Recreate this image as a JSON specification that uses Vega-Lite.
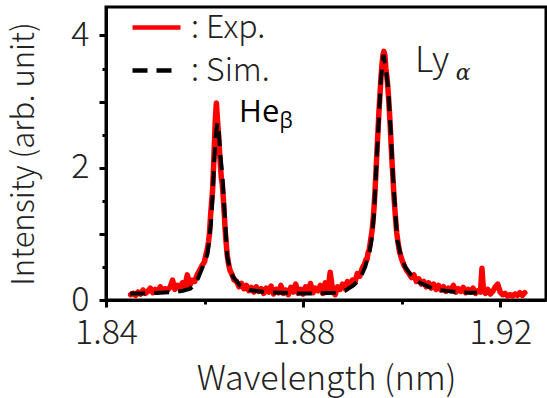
{
  "$schema": "https://vega.github.io/schema/vega-lite/v6.json",
  "width": 440,
  "height": 293,
  "autosize": {"type": "none"},
  "padding": {"left": 106, "top": 7, "right": 1, "bottom": 98},
  "background": "white",
  "config": {
    "view": {"stroke": "black", "strokeWidth": 3},
    "axis": {
      "domainColor": "black", "domainWidth": 3,
      "tickColor": "black", "tickWidth": 3,
      "grid": false,
      "labelFont": "Noto Sans CJK JP Light, Noto Sans CJK JP", "labelFontWeight": 300, "labelFontSize": 34, "labelColor": "#222",
      "titleFont": "Noto Sans CJK JP Light, Noto Sans CJK JP", "titleFontWeight": 300, "titleColor": "#222"
    },
    "legend": {
      "labelFont": "Noto Sans CJK JP Light, Noto Sans CJK JP", "labelFontWeight": 300, "labelColor": "#222"
    }
  },
  "datasets": {
    "spec": [
      {"s":"Exp.","w":1.8450,"v":0.08},{"s":"Exp.","w":1.8455,"v":0.10},{"s":"Exp.","w":1.8460,"v":0.07},{"s":"Exp.","w":1.8465,"v":0.12},
      {"s":"Exp.","w":1.8470,"v":0.09},{"s":"Exp.","w":1.8475,"v":0.15},{"s":"Exp.","w":1.8480,"v":0.10},{"s":"Exp.","w":1.8485,"v":0.13},
      {"s":"Exp.","w":1.8490,"v":0.18},{"s":"Exp.","w":1.8495,"v":0.11},{"s":"Exp.","w":1.8500,"v":0.16},{"s":"Exp.","w":1.8505,"v":0.12},
      {"s":"Exp.","w":1.8510,"v":0.20},{"s":"Exp.","w":1.8515,"v":0.14},{"s":"Exp.","w":1.8520,"v":0.17},{"s":"Exp.","w":1.8525,"v":0.15},
      {"s":"Exp.","w":1.8530,"v":0.19},{"s":"Exp.","w":1.8535,"v":0.30},{"s":"Exp.","w":1.8540,"v":0.16},{"s":"Exp.","w":1.8545,"v":0.22},
      {"s":"Exp.","w":1.8550,"v":0.18},{"s":"Exp.","w":1.8555,"v":0.26},{"s":"Exp.","w":1.8560,"v":0.20},{"s":"Exp.","w":1.8565,"v":0.38},
      {"s":"Exp.","w":1.8570,"v":0.22},{"s":"Exp.","w":1.8575,"v":0.30},{"s":"Exp.","w":1.8580,"v":0.28},{"s":"Exp.","w":1.8585,"v":0.38},
      {"s":"Exp.","w":1.8590,"v":0.45},{"s":"Exp.","w":1.8595,"v":0.52},{"s":"Exp.","w":1.8600,"v":0.58},{"s":"Exp.","w":1.8602,"v":0.66},
      {"s":"Exp.","w":1.8604,"v":0.72},{"s":"Exp.","w":1.8606,"v":0.78},{"s":"Exp.","w":1.8608,"v":0.88},{"s":"Exp.","w":1.8610,"v":1.00},
      {"s":"Exp.","w":1.8612,"v":1.25},{"s":"Exp.","w":1.8614,"v":1.45},{"s":"Exp.","w":1.8616,"v":1.62},{"s":"Exp.","w":1.8618,"v":1.95},
      {"s":"Exp.","w":1.8620,"v":2.35},{"s":"Exp.","w":1.8622,"v":2.75},{"s":"Exp.","w":1.8624,"v":2.98},{"s":"Exp.","w":1.8626,"v":2.75},
      {"s":"Exp.","w":1.8628,"v":2.55},{"s":"Exp.","w":1.8630,"v":2.30},{"s":"Exp.","w":1.8632,"v":2.05},{"s":"Exp.","w":1.8634,"v":1.85},
      {"s":"Exp.","w":1.8636,"v":1.75},{"s":"Exp.","w":1.8638,"v":1.55},{"s":"Exp.","w":1.8640,"v":1.30},{"s":"Exp.","w":1.8642,"v":1.05},
      {"s":"Exp.","w":1.8644,"v":0.85},{"s":"Exp.","w":1.8646,"v":0.68},{"s":"Exp.","w":1.8648,"v":0.58},{"s":"Exp.","w":1.8650,"v":0.50},
      {"s":"Exp.","w":1.8652,"v":0.44},{"s":"Exp.","w":1.8655,"v":0.40},{"s":"Exp.","w":1.8660,"v":0.30},{"s":"Exp.","w":1.8665,"v":0.28},
      {"s":"Exp.","w":1.8670,"v":0.20},{"s":"Exp.","w":1.8675,"v":0.25},{"s":"Exp.","w":1.8680,"v":0.17},{"s":"Exp.","w":1.8685,"v":0.22},
      {"s":"Exp.","w":1.8690,"v":0.14},{"s":"Exp.","w":1.8695,"v":0.19},{"s":"Exp.","w":1.8700,"v":0.12},{"s":"Exp.","w":1.8705,"v":0.20},
      {"s":"Exp.","w":1.8710,"v":0.13},{"s":"Exp.","w":1.8715,"v":0.17},{"s":"Exp.","w":1.8720,"v":0.10},{"s":"Exp.","w":1.8725,"v":0.18},
      {"s":"Exp.","w":1.8730,"v":0.12},{"s":"Exp.","w":1.8735,"v":0.21},{"s":"Exp.","w":1.8740,"v":0.09},{"s":"Exp.","w":1.8745,"v":0.16},
      {"s":"Exp.","w":1.8750,"v":0.11},{"s":"Exp.","w":1.8755,"v":0.22},{"s":"Exp.","w":1.8760,"v":0.10},{"s":"Exp.","w":1.8765,"v":0.15},
      {"s":"Exp.","w":1.8770,"v":0.08},{"s":"Exp.","w":1.8775,"v":0.19},{"s":"Exp.","w":1.8780,"v":0.12},{"s":"Exp.","w":1.8785,"v":0.24},
      {"s":"Exp.","w":1.8790,"v":0.10},{"s":"Exp.","w":1.8795,"v":0.16},{"s":"Exp.","w":1.8800,"v":0.09},{"s":"Exp.","w":1.8805,"v":0.20},
      {"s":"Exp.","w":1.8810,"v":0.13},{"s":"Exp.","w":1.8815,"v":0.25},{"s":"Exp.","w":1.8820,"v":0.11},{"s":"Exp.","w":1.8825,"v":0.18},
      {"s":"Exp.","w":1.8830,"v":0.14},{"s":"Exp.","w":1.8835,"v":0.22},{"s":"Exp.","w":1.8840,"v":0.10},{"s":"Exp.","w":1.8845,"v":0.26},
      {"s":"Exp.","w":1.8850,"v":0.12},{"s":"Exp.","w":1.8855,"v":0.42},{"s":"Exp.","w":1.8860,"v":0.15},{"s":"Exp.","w":1.8865,"v":0.08},
      {"s":"Exp.","w":1.8870,"v":0.20},{"s":"Exp.","w":1.8875,"v":0.16},{"s":"Exp.","w":1.8880,"v":0.24},{"s":"Exp.","w":1.8885,"v":0.17},
      {"s":"Exp.","w":1.8890,"v":0.28},{"s":"Exp.","w":1.8895,"v":0.22},{"s":"Exp.","w":1.8900,"v":0.30},{"s":"Exp.","w":1.8905,"v":0.26},
      {"s":"Exp.","w":1.8910,"v":0.40},{"s":"Exp.","w":1.8915,"v":0.36},{"s":"Exp.","w":1.8920,"v":0.48},{"s":"Exp.","w":1.8925,"v":0.55},
      {"s":"Exp.","w":1.8928,"v":0.62},{"s":"Exp.","w":1.8930,"v":0.62},{"s":"Exp.","w":1.8932,"v":0.72},{"s":"Exp.","w":1.8934,"v":0.75},
      {"s":"Exp.","w":1.8936,"v":0.85},{"s":"Exp.","w":1.8938,"v":0.95},{"s":"Exp.","w":1.8940,"v":1.05},{"s":"Exp.","w":1.8942,"v":1.20},
      {"s":"Exp.","w":1.8944,"v":1.40},{"s":"Exp.","w":1.8946,"v":1.65},{"s":"Exp.","w":1.8948,"v":1.95},{"s":"Exp.","w":1.8950,"v":2.25},
      {"s":"Exp.","w":1.8952,"v":2.55},{"s":"Exp.","w":1.8954,"v":2.85},{"s":"Exp.","w":1.8956,"v":3.10},{"s":"Exp.","w":1.8958,"v":3.35},
      {"s":"Exp.","w":1.8960,"v":3.55},{"s":"Exp.","w":1.8962,"v":3.70},{"s":"Exp.","w":1.8964,"v":3.76},{"s":"Exp.","w":1.8966,"v":3.70},
      {"s":"Exp.","w":1.8968,"v":3.50},{"s":"Exp.","w":1.8970,"v":3.38},{"s":"Exp.","w":1.8972,"v":3.22},{"s":"Exp.","w":1.8974,"v":3.00},
      {"s":"Exp.","w":1.8976,"v":2.75},{"s":"Exp.","w":1.8978,"v":2.45},{"s":"Exp.","w":1.8980,"v":2.15},{"s":"Exp.","w":1.8982,"v":1.90},
      {"s":"Exp.","w":1.8984,"v":1.62},{"s":"Exp.","w":1.8986,"v":1.40},{"s":"Exp.","w":1.8988,"v":1.20},{"s":"Exp.","w":1.8990,"v":1.02},
      {"s":"Exp.","w":1.8993,"v":0.85},{"s":"Exp.","w":1.8996,"v":0.72},{"s":"Exp.","w":1.9000,"v":0.62},{"s":"Exp.","w":1.9005,"v":0.52},
      {"s":"Exp.","w":1.9010,"v":0.45},{"s":"Exp.","w":1.9015,"v":0.40},{"s":"Exp.","w":1.9020,"v":0.34},{"s":"Exp.","w":1.9025,"v":0.38},
      {"s":"Exp.","w":1.9030,"v":0.28},{"s":"Exp.","w":1.9035,"v":0.32},{"s":"Exp.","w":1.9040,"v":0.24},{"s":"Exp.","w":1.9045,"v":0.28},
      {"s":"Exp.","w":1.9050,"v":0.20},{"s":"Exp.","w":1.9055,"v":0.26},{"s":"Exp.","w":1.9060,"v":0.18},{"s":"Exp.","w":1.9065,"v":0.24},
      {"s":"Exp.","w":1.9070,"v":0.16},{"s":"Exp.","w":1.9075,"v":0.22},{"s":"Exp.","w":1.9080,"v":0.15},{"s":"Exp.","w":1.9085,"v":0.20},
      {"s":"Exp.","w":1.9090,"v":0.13},{"s":"Exp.","w":1.9095,"v":0.18},{"s":"Exp.","w":1.9100,"v":0.14},{"s":"Exp.","w":1.9105,"v":0.22},
      {"s":"Exp.","w":1.9110,"v":0.12},{"s":"Exp.","w":1.9115,"v":0.17},{"s":"Exp.","w":1.9120,"v":0.13},{"s":"Exp.","w":1.9125,"v":0.19},
      {"s":"Exp.","w":1.9130,"v":0.11},{"s":"Exp.","w":1.9135,"v":0.16},{"s":"Exp.","w":1.9140,"v":0.12},{"s":"Exp.","w":1.9145,"v":0.18},
      {"s":"Exp.","w":1.9150,"v":0.10},{"s":"Exp.","w":1.9155,"v":0.14},{"s":"Exp.","w":1.9160,"v":0.12},{"s":"Exp.","w":1.9163,"v":0.48},
      {"s":"Exp.","w":1.9166,"v":0.15},{"s":"Exp.","w":1.9170,"v":0.10},{"s":"Exp.","w":1.9175,"v":0.16},{"s":"Exp.","w":1.9180,"v":0.09},
      {"s":"Exp.","w":1.9185,"v":0.13},{"s":"Exp.","w":1.9190,"v":0.20},{"s":"Exp.","w":1.9195,"v":0.24},{"s":"Exp.","w":1.9200,"v":0.12},
      {"s":"Exp.","w":1.9205,"v":0.08},{"s":"Exp.","w":1.9210,"v":0.10},{"s":"Exp.","w":1.9215,"v":0.06},{"s":"Exp.","w":1.9220,"v":0.08},
      {"s":"Exp.","w":1.9225,"v":0.06},{"s":"Exp.","w":1.9230,"v":0.09},{"s":"Exp.","w":1.9235,"v":0.07},{"s":"Exp.","w":1.9240,"v":0.11},
      {"s":"Exp.","w":1.9245,"v":0.07},{"s":"Exp.","w":1.9250,"v":0.11},
      {"s":"Sim.","w":1.8449,"v":0.10},{"s":"Sim.","w":1.8479,"v":0.10},{"s":"Sim.","w":1.8510,"v":0.11},{"s":"Sim.","w":1.8540,"v":0.12},
      {"s":"Sim.","w":1.8556,"v":0.14},{"s":"Sim.","w":1.8571,"v":0.17},{"s":"Sim.","w":1.8581,"v":0.24},{"s":"Sim.","w":1.8587,"v":0.33},
      {"s":"Sim.","w":1.8595,"v":0.48},{"s":"Sim.","w":1.8601,"v":0.58},{"s":"Sim.","w":1.8606,"v":0.70},{"s":"Sim.","w":1.8609,"v":0.88},
      {"s":"Sim.","w":1.8613,"v":1.16},{"s":"Sim.","w":1.8617,"v":1.66},{"s":"Sim.","w":1.8620,"v":2.15},{"s":"Sim.","w":1.8623,"v":2.50},
      {"s":"Sim.","w":1.8626,"v":2.68},{"s":"Sim.","w":1.8629,"v":2.55},{"s":"Sim.","w":1.8632,"v":2.20},{"s":"Sim.","w":1.8636,"v":1.90},
      {"s":"Sim.","w":1.8638,"v":1.66},{"s":"Sim.","w":1.8642,"v":1.16},{"s":"Sim.","w":1.8646,"v":0.66},{"s":"Sim.","w":1.8652,"v":0.45},
      {"s":"Sim.","w":1.8658,"v":0.35},{"s":"Sim.","w":1.8672,"v":0.22},{"s":"Sim.","w":1.8692,"v":0.15},{"s":"Sim.","w":1.8723,"v":0.12},
      {"s":"Sim.","w":1.8753,"v":0.11},{"s":"Sim.","w":1.8794,"v":0.10},{"s":"Sim.","w":1.8834,"v":0.10},{"s":"Sim.","w":1.8865,"v":0.11},
      {"s":"Sim.","w":1.8885,"v":0.14},{"s":"Sim.","w":1.8902,"v":0.22},{"s":"Sim.","w":1.8916,"v":0.33},{"s":"Sim.","w":1.8926,"v":0.50},
      {"s":"Sim.","w":1.8934,"v":0.70},{"s":"Sim.","w":1.8939,"v":0.91},{"s":"Sim.","w":1.8944,"v":1.30},{"s":"Sim.","w":1.8948,"v":1.92},
      {"s":"Sim.","w":1.8952,"v":2.50},{"s":"Sim.","w":1.8955,"v":2.92},{"s":"Sim.","w":1.8958,"v":3.35},{"s":"Sim.","w":1.8963,"v":3.71},
      {"s":"Sim.","w":1.8967,"v":3.55},{"s":"Sim.","w":1.8972,"v":3.25},{"s":"Sim.","w":1.8975,"v":2.92},{"s":"Sim.","w":1.8979,"v":2.40},
      {"s":"Sim.","w":1.8982,"v":1.92},{"s":"Sim.","w":1.8987,"v":1.35},{"s":"Sim.","w":1.8991,"v":0.91},{"s":"Sim.","w":1.8997,"v":0.72},
      {"s":"Sim.","w":1.9007,"v":0.50},{"s":"Sim.","w":1.9021,"v":0.36},{"s":"Sim.","w":1.9037,"v":0.26},{"s":"Sim.","w":1.9058,"v":0.19},
      {"s":"Sim.","w":1.9078,"v":0.15},{"s":"Sim.","w":1.9109,"v":0.12},{"s":"Sim.","w":1.9139,"v":0.11},{"s":"Sim.","w":1.9153,"v":0.11}
    ],
    "he": [
      {"w": 1.8670, "v": 2.69, "t": "He"}
    ],
    "ly": [
      {"w": 1.9027, "v": 3.45, "t": "Ly"}
    ],
    "sub": [
      {"w": 1.8752, "v": 2.60, "t": "β"}
    ],
    "subi": [
      {"w": 1.9110, "v": 3.33, "t": "α"}
    ]
  },
  "encoding": {
    "x": {
      "field": "w", "type": "quantitative",
      "scale": {"domain": [1.84, 1.9293], "nice": false, "zero": false},
      "axis": {
        "title": "Wavelength (nm)", "titleFontSize": 34, "titlePadding": 12,
        "values": [1.84, 1.86, 1.88, 1.90, 1.92],
        "labelExpr": "abs(datum.value - 1.86) < 0.001 || abs(datum.value - 1.90) < 0.001 ? '' : format(datum.value, '.2f')",
        "tickSize": {"condition": {"test": "abs(datum.value - 1.86) < 0.001 || abs(datum.value - 1.90) < 0.001", "value": 4}, "value": 7},
        "labelPadding": 9, "labelFlush": false, "labelOverlap": false
      }
    },
    "y": {
      "field": "v", "type": "quantitative",
      "scale": {"domain": [0, 4.43], "nice": false},
      "axis": {
        "title": "Intensity (arb. unit)", "titleFontSize": 31, "titlePadding": 30,
        "values": [0, 0.5, 1, 1.5, 2, 2.5, 3, 3.5, 4],
        "labelExpr": "datum.value % 2 === 0 ? format(datum.value, 'd') : ''",
        "tickSize": {"condition": {"test": "datum.value % 1 !== 0", "value": 4}, "value": 7},
        "labelPadding": 10, "labelFlush": false, "labelOverlap": false
      }
    }
  },
  "layer": [
    {
      "data": {"name": "spec"},
      "transform": [{"filter": "datum.s === 'Exp.'"}],
      "mark": {"type": "line", "strokeWidth": 5.5, "strokeJoin": "round", "strokeCap": "round"},
      "encoding": {
        "color": {"field": "s", "type": "nominal", "scale": {"domain": ["Exp.", "Sim."], "range": ["#ff0000", "#000000"]},
          "legend": {"title": null, "orient": "none", "legendX": 24, "legendY": -6, "symbolType": "stroke", "symbolSize": 2304,
            "symbolStrokeWidth": 4.5, "labelFontSize": 32, "labelExpr": "': ' + datum.label", "rowPadding": -11, "labelOffset": 8, "padding": 0}},
        "strokeDash": {"field": "s", "type": "nominal", "scale": {"domain": ["Exp.", "Sim."], "range": [[1, 0], [15, 9]]},
          "legend": {"title": null, "orient": "none", "legendX": 24, "legendY": -6, "symbolType": "stroke", "symbolSize": 2304,
            "symbolStrokeWidth": 4.5, "labelFontSize": 32, "labelExpr": "': ' + datum.label", "rowPadding": -11, "labelOffset": 8, "padding": 0}}
      }
    },
    {
      "data": {"name": "spec"},
      "transform": [{"filter": "datum.s === 'Sim.'"}],
      "mark": {"type": "line", "strokeWidth": 4},
      "encoding": {
        "color": {"field": "s", "type": "nominal"},
        "strokeDash": {"field": "s", "type": "nominal"}
      }
    },
    {
      "data": {"name": "he"},
      "mark": {"type": "text", "align": "left", "baseline": "alphabetic", "fontSize": 31, "font": "Open Sans", "color": "black"},
      "encoding": {"text": {"field": "t"}}
    },
    {
      "data": {"name": "ly"},
      "mark": {"type": "text", "align": "left", "baseline": "alphabetic", "fontSize": 35, "font": "Noto Sans CJK JP Light, Noto Sans CJK JP", "fontWeight": 300, "color": "#222"},
      "encoding": {"text": {"field": "t"}}
    },
    {
      "data": {"name": "sub"},
      "mark": {"type": "text", "align": "left", "baseline": "alphabetic", "fontSize": 21, "font": "Open Sans", "color": "black"},
      "encoding": {"text": {"field": "t"}}
    },
    {
      "data": {"name": "subi"},
      "mark": {"type": "text", "align": "left", "baseline": "alphabetic", "fontSize": 22, "fontStyle": "italic", "font": "DejaVu Serif", "color": "#222"},
      "encoding": {"text": {"field": "t"}}
    }
  ]
}
